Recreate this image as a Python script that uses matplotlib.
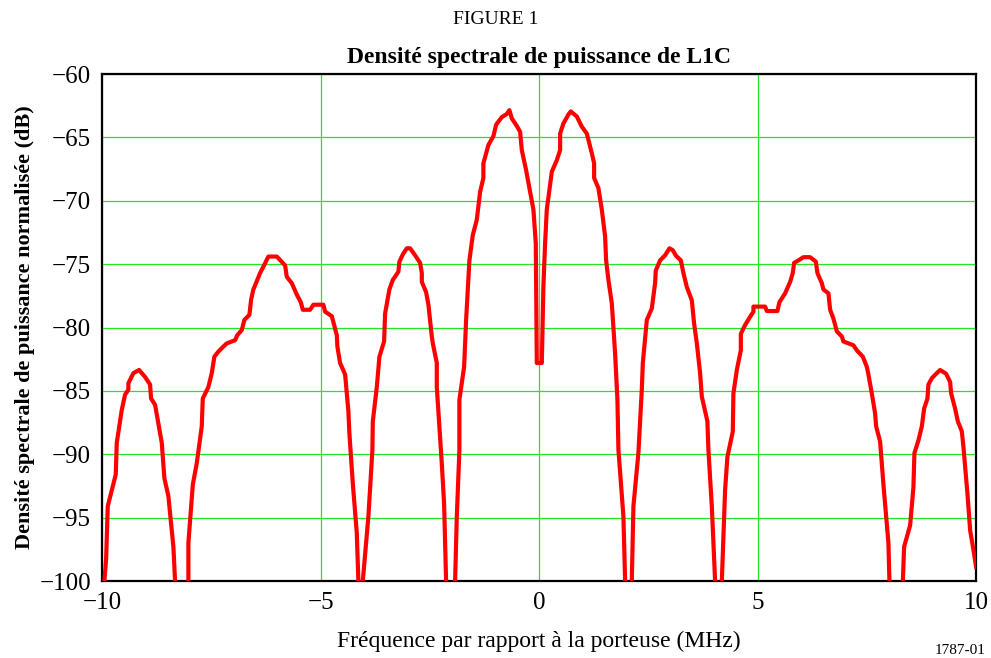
"""Densité spectrale de puissance de L1C (FIGURE 1) - recreated with matplotlib."""
import matplotlib

matplotlib.use("Agg")
import matplotlib.pyplot as plt
import numpy as np

plt.rcParams["font.family"] = ["Liberation Serif", "DejaVu Serif"]

# ── Data (-110 marks a null below the axis) ──
freq_left = [
    -9.947, -9.908, -9.870, -9.687, -9.664, -9.549, -9.474, -9.398, -9.398, -9.284,
    -9.153, -9.016, -8.902, -8.879, -8.787, -8.634, -8.574, -8.483, -8.368, -8.330,
    -8.18,
    -8.025, -8.025, -7.924, -7.833, -7.719, -7.696, -7.568, -7.490, -7.430, -7.339,
    -7.224, -7.146, -6.957, -6.904, -6.803, -6.744, -6.629, -6.590, -6.538, -6.384,
    -6.309, -6.195, -6.002, -5.812, -5.773, -5.659, -5.545, -5.453, -5.407, -5.240,
    -5.165, -4.936, -4.897, -4.744, -4.629, -4.616, -4.554, -4.439, -4.364, -4.341,
    -4.263, -4.172, -4.135,
    -4.09,
    -4.034, -3.906, -3.815, -3.805, -3.714, -3.654, -3.547, -3.524, -3.426, -3.348,
    -3.220, -3.197, -3.105, -3.027, -2.952, -2.838, -2.723, -2.684, -2.684, -2.586,
    -2.533, -2.455, -2.432, -2.341, -2.341, -2.281, -2.227, -2.174, -2.128,
    -2.03,
    -1.922, -1.883, -1.824, -1.824, -1.716, -1.670, -1.595, -1.517, -1.426, -1.350,
    -1.275, -1.275, -1.160, -1.046, -0.984, -0.854, -0.739, -0.680, -0.625, -0.510,
    -0.435, -0.396, -0.297, -0.206, -0.130, -0.076, -0.053,
]
psd_left = [
    -100.0, -98.3, -94.1, -91.6, -89.1, -86.5, -85.3, -84.9, -84.4, -83.6,
    -83.35, -83.9, -84.5, -85.6, -86.1, -89.1, -91.9, -93.3, -97.3, -100.0,
    -110.0,
    -100.0, -97.0, -92.4, -90.7, -87.8, -85.6, -84.7, -83.6, -82.3, -81.9,
    -81.5, -81.25, -81.0, -80.6, -80.2, -79.4, -79.0, -77.8, -77.0, -75.7,
    -75.2, -74.4, -74.4, -75.1, -76.0, -76.5, -77.4, -78.0, -78.6, -78.6,
    -78.2, -78.2, -78.75, -79.1, -80.6, -81.5, -82.8, -83.7, -86.6, -88.35,
    -92.3, -96.2, -100.0,
    -110.0,
    -100.0, -94.9, -89.7, -87.4, -84.7, -82.3, -81.1, -78.9, -77.0, -76.25,
    -75.6, -74.8, -74.15, -73.75, -73.75, -74.3, -74.9, -75.7, -76.4, -77.2,
    -78.2, -80.7, -81.25, -82.8, -84.7, -87.8, -90.7, -93.9, -100.0,
    -110.0,
    -100.0, -94.9, -89.7, -85.7, -83.1, -79.4, -74.7, -72.7, -71.5, -69.3,
    -68.2, -67.05, -65.6, -64.9, -64.0, -63.4, -63.15, -62.85, -63.5, -64.1,
    -64.55, -66.0, -67.6, -69.3, -70.7, -73.35, -82.8,
]

freq_right = [
    0.062, 0.098, 0.137, 0.176, 0.291, 0.405, 0.481, 0.481, 0.556, 0.670,
    0.725, 0.863, 0.977, 1.092, 1.206, 1.259, 1.259, 1.357, 1.435, 1.510,
    1.533, 1.586, 1.664, 1.739, 1.792, 1.815, 1.929, 1.968,
    2.05,
    2.121, 2.158, 2.272, 2.350, 2.373, 2.465, 2.579, 2.654, 2.670, 2.769,
    2.883, 2.982, 3.059, 3.135, 3.243, 3.302, 3.380, 3.494, 3.547, 3.609,
    3.684, 3.723, 3.851, 3.874, 3.952, 4.027,
    4.10,
    4.181, 4.256, 4.309, 4.432, 4.446, 4.524, 4.616, 4.616, 4.714, 4.828,
    4.904, 4.904, 5.172, 5.211, 5.453, 5.499, 5.629, 5.744, 5.805, 5.835,
    5.934, 6.048, 6.201, 6.332, 6.368, 6.469, 6.506, 6.620, 6.659, 6.735,
    6.812, 6.927, 6.963, 7.078, 7.192, 7.270, 7.407, 7.499, 7.535, 7.613,
    7.689, 7.712, 7.803, 7.879, 7.993, 8.016,
    8.16,
    8.323, 8.352, 8.490, 8.565, 8.588, 8.680, 8.757, 8.810, 8.886, 8.908,
    8.986, 9.085, 9.176, 9.314, 9.405, 9.428, 9.519, 9.581, 9.673, 9.709,
    9.801, 9.863, 9.938, 10.0,
]
psd_right = [
    -82.8, -76.8, -73.35, -70.7, -67.7, -66.8, -66.0, -64.7, -63.9, -63.2,
    -62.95, -63.35, -64.15, -64.7, -66.25, -67.05, -68.2, -69.0, -70.7, -72.8,
    -74.7, -76.25, -78.1, -82.05, -85.7, -89.65, -94.9, -100.0,
    -110.0,
    -100.0, -94.1, -89.9, -84.9, -82.8, -79.4, -78.5, -76.5, -75.5, -74.7,
    -74.3, -73.75, -73.9, -74.35, -74.7, -75.7, -76.8, -77.85, -79.7, -81.25,
    -83.6, -85.45, -87.4, -89.65, -94.1, -100.0,
    -110.0,
    -100.0, -92.8, -90.2, -88.2, -85.2, -83.35, -81.8, -80.5, -79.8, -79.15,
    -78.75, -78.35, -78.35, -78.7, -78.7, -78.0, -77.3, -76.4, -75.7, -74.9,
    -74.7, -74.45, -74.45, -74.8, -75.7, -76.5, -77.0, -77.3, -78.6, -79.3,
    -80.3, -80.7, -81.1, -81.25, -81.4, -81.8, -82.3, -83.1, -83.7, -85.2,
    -86.8, -87.8, -89.0, -92.4, -97.0, -100.0,
    -110.0,
    -100.0, -97.3, -95.6, -92.6, -89.9, -88.9, -87.8, -86.4, -85.6, -84.5,
    -84.0, -83.65, -83.35, -83.65, -84.3, -85.2, -86.4, -87.4, -88.2, -89.4,
    -93.1, -96.0, -97.55, -98.9,
]

x_ticks = [-10, -5, 0, 5, 10]
y_ticks = [-60, -65, -70, -75, -80, -85, -90, -95, -100]

freq = np.array(freq_left + freq_right)
psd = np.array(psd_left + psd_right)

fig = plt.figure(figsize=(9.91, 6.58), dpi=100)
ax = fig.add_axes([0.103, 0.117, 0.882, 0.7705])

ax.plot(freq, psd, color="#ff0000", linewidth=3.0, solid_joinstyle="round", zorder=3)

ax.set_xlim(-10, 10)
ax.set_ylim(-100, -60)
ax.set_xticks(x_ticks)
ax.set_yticks(y_ticks)
ax.set_xticklabels([str(t).replace("-", "\u2212") for t in x_ticks])
ax.set_yticklabels([str(t).replace("-", "\u2212") for t in y_ticks])
ax.tick_params(length=0, labelsize=18, pad=8)
ax.grid(True, color="#22e622", linewidth=0.9)
for sp in ax.spines.values():
    sp.set_linewidth(1.6)
    sp.set_color("black")

ax.set_xlabel("Fréquence par rapport à la porteuse (MHz)", fontsize=17, labelpad=12)
ax.set_ylabel("Densité spectrale de puissance normalisée (dB)", fontsize=16,
              fontweight="bold", labelpad=3)
ax.set_title("Densité spectrale de puissance de L1C", fontsize=17,
             fontweight="bold", pad=8)

fig.text(0.5, 0.971, "FIGURE 1", ha="center", va="center", fontsize=14)
fig.text(0.995, 0.002, "1787-01", ha="right", va="bottom", fontsize=11)

fig.savefig("out.png", dpi=100)
plt.close(fig)
